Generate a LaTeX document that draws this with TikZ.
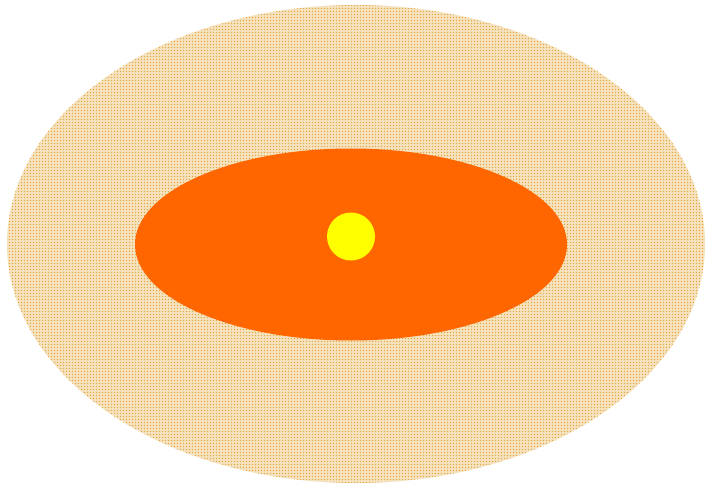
\documentclass[tikz,border=0pt]{standalone}
\usetikzlibrary{patterns}
\pgfdeclarepatternformonly{bigdots}{\pgfqpoint{-1pt}{-1pt}}{\pgfqpoint{2pt}{2pt}}{\pgfqpoint{3pt}{3pt}}{%
  \pgfpathrectangle{\pgfqpoint{0pt}{0pt}}{\pgfqpoint{1.7pt}{1.7pt}}\pgfusepath{fill}}
\definecolor{dotc}{HTML}{E3A640}
\definecolor{paleback}{HTML}{F6E4C2}
\definecolor{midorange}{HTML}{FF6600}
\definecolor{sunyellow}{HTML}{FFFF00}
\tikzset{
  outerzone/.style={fill=paleback, postaction={pattern=bigdots, pattern color=dotc}},
  innerzone/.style={fill=midorange},
  corezone/.style={fill=sunyellow}
}
\begin{document}
\begin{tikzpicture}[x=1pt,y=-1pt]
\useasboundingbox (0,0) rectangle (706,486);
\path[outerzone] (356,244) ellipse [x radius=349, y radius=239];
\path[innerzone] (351,244.5) ellipse [x radius=216, y radius=96];
\path[corezone] (351,236.5) circle [radius=24];
\end{tikzpicture}
\end{document}
